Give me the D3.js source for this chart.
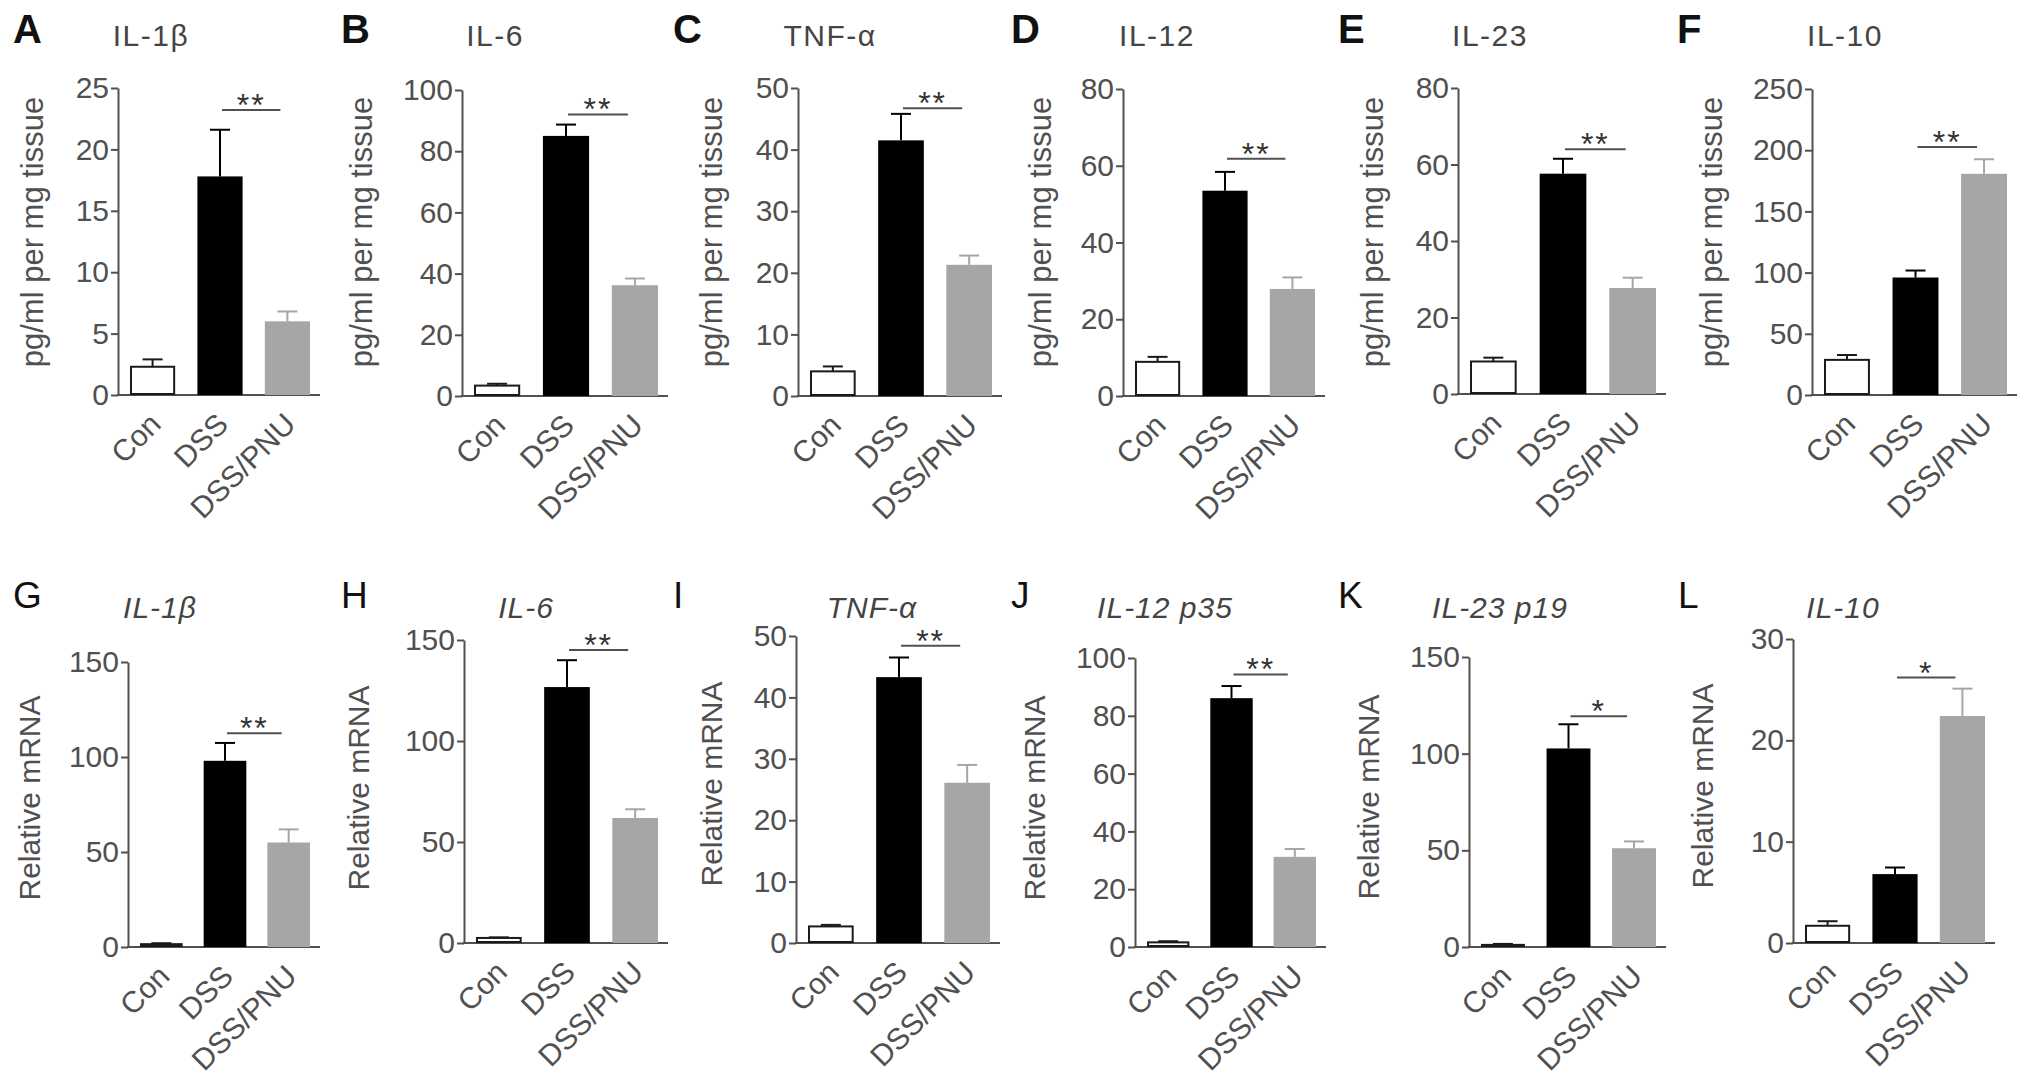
<!DOCTYPE html>
<html>
<head>
<meta charset="utf-8">
<script src="https://cdn.jsdelivr.net/npm/d3@7"></script>
<style>
  html, body { margin: 0; padding: 0; background: #fff; }
  svg { display: block; }
  text { font-family: "Liberation Sans", Arial, Helvetica, sans-serif; }
</style>
</head>
<body>
<svg id="chart" width="2031" height="1087"></svg>
<script>
// ---------- DATA ----------
const categories = ["Con", "DSS", "DSS/PNU"];
const panelLetters = ["A", "B", "C", "D", "E", "F", "G", "H", "I", "J", "K", "L"];
const titles = ["IL-1β", "IL-6", "TNF-α", "IL-12", "IL-23", "IL-10",
                "IL-1β", "IL-6", "TNF-α", "IL-12 p35", "IL-23 p19", "IL-10"];
const yTitles = ["pg/ml per mg tissue", "pg/ml per mg tissue", "pg/ml per mg tissue",
                 "pg/ml per mg tissue", "pg/ml per mg tissue", "pg/ml per mg tissue",
                 "Relative mRNA", "Relative mRNA", "Relative mRNA",
                 "Relative mRNA", "Relative mRNA", "Relative mRNA"];
const yMax = [25, 100, 50, 80, 80, 250, 150, 150, 50, 100, 150, 30];
const tickStep = [5, 20, 10, 20, 20, 50, 50, 50, 10, 20, 50, 10];
const means = [
  [2.3, 17.8, 6.0],
  [3.4, 85.0, 36.2],
  [4.0, 41.5, 21.3],
  [8.9, 53.5, 27.9],
  [8.5, 57.6, 27.7],
  [28.7, 96.0, 180.7],
  [1.5, 98.0, 55.0],
  [2.5, 126.7, 61.9],
  [2.7, 43.3, 26.1],
  [1.6, 86.1, 31.2],
  [1.1, 102.7, 51.1],
  [1.7, 6.8, 22.4]
];
const errors = [
  [0.6, 3.8, 0.8],
  [0.6, 3.7, 2.2],
  [0.8, 4.3, 1.5],
  [1.3, 4.9, 3.0],
  [1.0, 3.9, 2.7],
  [4.0, 5.7, 11.9],
  [0.5, 9.4, 6.9],
  [0.3, 13.3, 4.3],
  [0.25, 3.2, 2.9],
  [0.4, 4.2, 2.7],
  [0.5, 12.5, 3.5],
  [0.45, 0.65, 2.7]
];
const sigLevel = [23.2, 92, 46.7, 61.8, 64, 202.6, 112.5, 145, 48.4, 94.3, 119.3, 26.2];
const sigText = ["**", "**", "**", "**", "**", "**", "**", "**", "**", "**", "*", "*"];

// ---------- LAYOUT ----------
const axisX   = [118, 462, 798, 1123, 1458, 1812, 128, 464, 796, 1135, 1469, 1793];
const plotW   = [202, 206, 204, 202, 208, 205, 192, 204, 204, 191, 197, 202];
const yTopPx  = [88, 90, 88, 89, 88, 89, 662, 640, 636, 658, 657, 639];
const yBotPx  = [395, 396, 396, 396, 394, 395, 947, 943, 943, 947, 947, 943];
const letterX = [13, 341, 673, 1011, 1338, 1677, 13, 341, 673, 1011, 1338, 1678];
const titleCX = [151, 495, 830, 1157, 1490, 1845, 160, 526, 872, 1165, 1500, 1843];
const yTitleX = [33, 362, 712, 1041, 1373, 1712, 30, 359, 712, 1035, 1369, 1703];
const yTitleY = [232, 232, 232, 232, 232, 232, 798, 788, 784, 798, 797, 786];

const barFill = ["#ffffff", "#000000", "#a6a6a6"];
const errColor = ["#1a1a1a", "#000000", "#a6a6a6"];
const gray = "#505050";

const svg = d3.select("#chart");

panelLetters.forEach((L, i) => {
  const row = i < 6 ? 0 : 1;
  const g = svg.append("g");

  const y = d3.scaleLinear().domain([0, yMax[i]]).range([yBotPx[i], yTopPx[i]]);
  const x = d3.scaleBand().domain(categories)
    .range([axisX[i] + 12, axisX[i] + plotW[i] - 10])
    .paddingInner(0.33).paddingOuter(0);

  // panel letter
  g.append("text")
    .attr("x", letterX[i]).attr("y", row === 0 ? 43 : 608)
    .attr("font-size", row === 0 ? 40 : 37)
    .attr("font-weight", row === 0 ? "bold" : "normal")
    .attr("fill", "#111")
    .text(L);

  // title
  g.append("text")
    .attr("x", titleCX[i]).attr("y", row === 0 ? 46 : 618)
    .attr("text-anchor", "middle")
    .attr("font-size", 30)
    .attr("font-style", row === 0 ? "normal" : "italic")
    .attr("letter-spacing", row === 0 ? 1.5 : 1)
    .attr("fill", "#444")
    .text(titles[i]);

  // y title
  g.append("text")
    .attr("transform", `translate(${yTitleX[i]},${yTitleY[i]}) rotate(-90)`)
    .attr("text-anchor", "middle")
    .attr("dy", "0.33em")
    .attr("font-size", row === 0 ? 31 : 30)
    .attr("fill", gray)
    .text(yTitles[i]);

  // y axis
  const ticks = d3.range(0, yMax[i] + tickStep[i] / 2, tickStep[i]);
  const ya = g.append("g")
    .attr("transform", `translate(${axisX[i]},0)`)
    .call(d3.axisLeft(y).tickValues(ticks).tickSize(7).tickSizeOuter(0).tickPadding(2));
  ya.select(".domain").attr("stroke", gray).attr("stroke-width", 2);
  ya.selectAll(".tick line").attr("stroke", gray).attr("stroke-width", 2);
  ya.selectAll(".tick text")
    .attr("font-size", 30).attr("fill", gray)
    .attr("font-family", "'Liberation Sans', Arial, sans-serif");

  // x axis line
  g.append("line")
    .attr("x1", axisX[i] - 1).attr("x2", axisX[i] + plotW[i])
    .attr("y1", y(0)).attr("y2", y(0))
    .attr("stroke", gray).attr("stroke-width", 2);

  const rows = categories.map((c, k) => ({ c, k, m: means[i][k], e: errors[i][k] }));

  // error bars (upper only)
  rows.forEach(d => {
    const cx = x(d.c) + x.bandwidth() / 2;
    g.append("line")
      .attr("x1", cx).attr("x2", cx)
      .attr("y1", y(d.m)).attr("y2", y(d.m + d.e))
      .attr("stroke", errColor[d.k]).attr("stroke-width", 2);
    g.append("line")
      .attr("x1", cx - 10).attr("x2", cx + 10)
      .attr("y1", y(d.m + d.e)).attr("y2", y(d.m + d.e))
      .attr("stroke", errColor[d.k]).attr("stroke-width", 2);
  });

  // bars
  g.selectAll("rect.bar").data(rows).join("rect")
    .attr("class", "bar")
    .attr("x", d => x(d.c) + (d.k === 0 ? 1 : 0))
    .attr("width", d => x.bandwidth() - (d.k === 0 ? 2 : 0))
    .attr("y", d => y(d.m))
    .attr("height", d => y(0) - y(d.m) - (d.k === 0 ? 1 : 0))
    .attr("fill", d => barFill[d.k])
    .attr("stroke", d => d.k === 0 ? "#1a1a1a" : "none")
    .attr("stroke-width", 2);

  // x labels
  rows.forEach(d => {
    const cx = x(d.c) + x.bandwidth() / 2 + 10;
    g.append("text")
      .attr("transform", `translate(${cx},${y(0) + 31}) rotate(-45)`)
      .attr("text-anchor", "end")
      .attr("font-size", 30)
      .attr("fill", gray)
      .text(d.c);
  });

  // significance bracket
  const x1 = x("DSS") + x.bandwidth() / 2 + 2;
  const x2 = x("DSS/PNU") + x.bandwidth() / 2 - 7;
  g.append("line")
    .attr("x1", x1).attr("x2", x2)
    .attr("y1", y(sigLevel[i])).attr("y2", y(sigLevel[i]))
    .attr("stroke", gray).attr("stroke-width", 2);
  g.append("text")
    .attr("x", (x1 + x2) / 2).attr("y", y(sigLevel[i]) + 6)
    .attr("text-anchor", "middle")
    .attr("font-size", 32)
    .attr("letter-spacing", 2)
    .attr("fill", "#333")
    .text(sigText[i]);
});
</script>
</body>
</html>
